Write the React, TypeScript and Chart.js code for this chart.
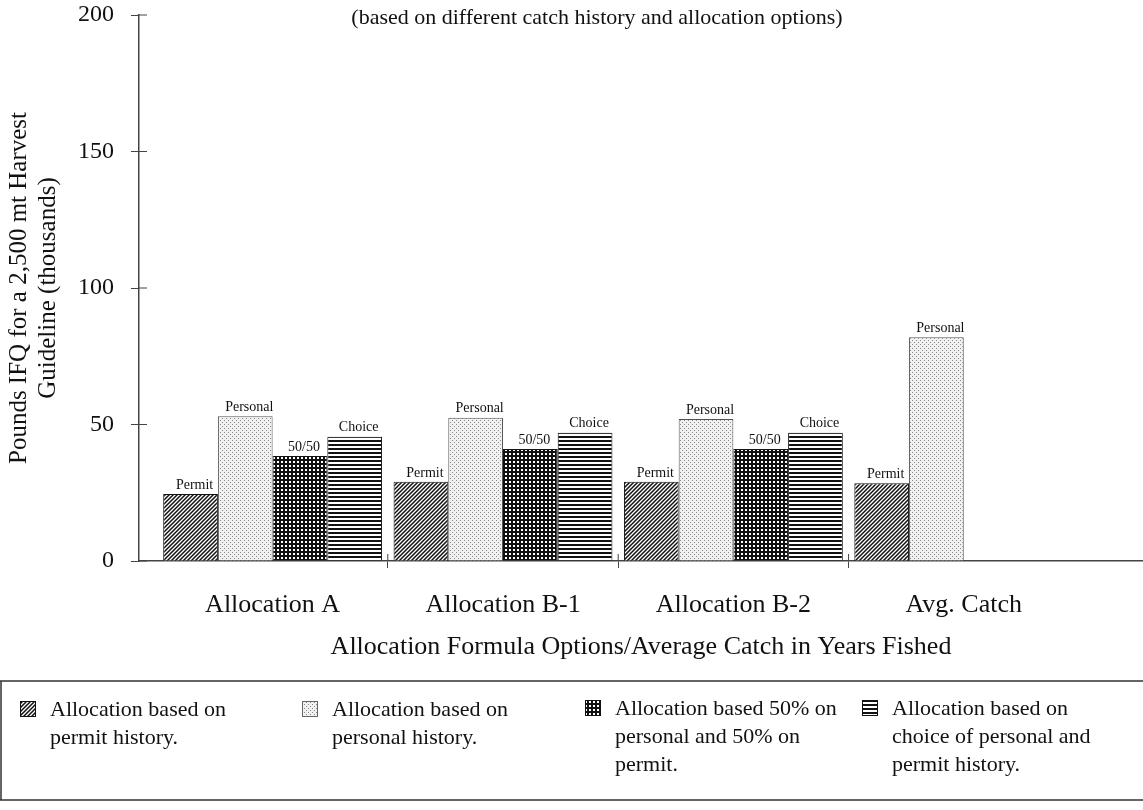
import React, { useEffect, useRef } from "react";
import { Chart, registerables } from "chart.js";

Chart.register(...registerables);

const FONT = "'Liberation Serif', 'Times New Roman', serif";

const categories = ["Allocation A", "Allocation B-1", "Allocation B-2", "Avg. Catch"];
const permitValues: (number | null)[] = [24.5, 29, 29, 28.5];
const personalValues: (number | null)[] = [53, 52.5, 52, 82];
const fiftyFiftyValues: (number | null)[] = [38.5, 41, 41, null];
const choiceValues: (number | null)[] = [45.5, 47, 47, null];
const seriesNames = ["Permit", "Personal", "50/50", "Choice"];
const yTickValues = [0, 50, 100, 150, 200];
const chartTitle = "(based on different catch history and allocation options)";
const xAxisTitle = "Allocation Formula Options/Average Catch in Years Fished";
const yAxisTitle = ["Pounds IFQ for a 2,500 mt Harvest", "Guideline (thousands)"];
const legendTexts: string[][] = [
  ["Allocation based on", "permit history."],
  ["Allocation based on", "personal history."],
  ["Allocation based 50% on", "personal and 50% on", "permit."],
  ["Allocation based on", "choice of personal and", "permit history."],
];

function makePattern(kind: string): CanvasPattern | string {
  const c = document.createElement("canvas");
  c.width = 4;
  c.height = 4;
  const g = c.getContext("2d");
  if (!g) return "#888";
  if (kind === "permit") {
    g.fillStyle = "#ffffff";
    g.fillRect(0, 0, 4, 4);
    g.strokeStyle = "#111111";
    g.lineWidth = 1.5;
    g.beginPath();
    g.moveTo(-1, 5);
    g.lineTo(5, -1);
    g.moveTo(-1, 1);
    g.lineTo(1, -1);
    g.moveTo(3, 5);
    g.lineTo(5, 3);
    g.stroke();
  } else if (kind === "personal") {
    g.fillStyle = "#f1f1f1";
    g.fillRect(0, 0, 4, 4);
    g.fillStyle = "#8a8a8a";
    g.fillRect(0, 0, 1, 1);
    g.fillRect(2, 2, 1, 1);
  } else if (kind === "fifty") {
    g.fillStyle = "#111111";
    g.fillRect(0, 0, 4, 4);
    g.fillStyle = "#ffffff";
    g.fillRect(1, 1, 2, 2);
  } else {
    g.fillStyle = "#ffffff";
    g.fillRect(0, 0, 4, 4);
    g.fillStyle = "#111111";
    g.fillRect(0, 0, 4, 2);
  }
  return g.createPattern(c, "repeat") || "#888";
}

export default function App() {
  const ref = useRef<HTMLCanvasElement | null>(null);

  useEffect(() => {
    const canvas = ref.current;
    if (!canvas) return;
    const patterns = [
      makePattern("permit"),
      makePattern("personal"),
      makePattern("fifty"),
      makePattern("choice"),
    ];
    const seriesData = [permitValues, personalValues, fiftyFiftyValues, choiceValues];

    const decor = {
      id: "decor",
      afterDraw(chart: any) {
        const ctx = chart.ctx as CanvasRenderingContext2D;
        const area = chart.chartArea;
        const W = chart.width;
        ctx.save();
        // title inside plot
        ctx.fillStyle = "#111";
        ctx.font = `22px ${FONT}`;
        ctx.textAlign = "center";
        ctx.textBaseline = "middle";
        ctx.fillText(chartTitle, 597, 18);

        // inner tick marks on y axis
        const yScale = chart.scales.y;
        ctx.strokeStyle = "#444";
        ctx.lineWidth = 1;
        yTickValues.forEach((v) => {
          const py = yScale.getPixelForValue(v);
          ctx.beginPath();
          ctx.moveTo(area.left, py);
          ctx.lineTo(area.left + 8, py);
          ctx.stroke();
        });
        // inner tick marks on x axis (category boundaries)
        const xScale = chart.scales.x;
        for (let i = 1; i < categories.length; i++) {
          const px = (xScale.getPixelForTick(i - 1) + xScale.getPixelForTick(i)) / 2;
          ctx.beginPath();
          ctx.moveTo(px, area.bottom - 7);
          ctx.lineTo(px, area.bottom);
          ctx.stroke();
        }

        // bar labels
        ctx.fillStyle = "#111";
        ctx.font = `14px ${FONT}`;
        ctx.textAlign = "center";
        ctx.textBaseline = "bottom";
        chart.data.datasets.forEach((ds: any, di: number) => {
          const meta = chart.getDatasetMeta(di);
          meta.data.forEach((el: any, i: number) => {
            const v = ds.data[i];
            if (v === null || v === undefined) return;
            ctx.fillText(seriesNames[di], el.x + 4, el.y - 2);
          });
        });

        // legend box
        const boxTop = 681;
        const boxBottom = 800;
        ctx.strokeStyle = "#333";
        ctx.lineWidth = 1.5;
        ctx.beginPath();
        ctx.moveTo(0, boxTop);
        ctx.lineTo(W, boxTop);
        ctx.moveTo(0, boxBottom);
        ctx.lineTo(W, boxBottom);
        ctx.moveTo(1, boxTop);
        ctx.lineTo(1, boxBottom);
        ctx.stroke();

        const swatchX = [20, 302, 585, 862];
        const textX = [50, 332, 615, 892];
        const lineY = [710, 710, 709, 709];
        ctx.font = `22px ${FONT}`;
        ctx.textAlign = "left";
        ctx.textBaseline = "middle";
        legendTexts.forEach((lines, i) => {
          const sx = swatchX[i];
          const sy = lineY[i] - 9;
          ctx.fillStyle = patterns[i] as any;
          ctx.fillRect(sx, sy, 16, 16);
          ctx.strokeStyle = i === 1 ? "#666" : "#111";
          ctx.lineWidth = 1;
          ctx.strokeRect(sx + 0.5, sy + 0.5, 15, 15);
          ctx.fillStyle = "#111";
          lines.forEach((t, li) => {
            ctx.fillText(t, textX[i], lineY[i] + li * 28);
          });
        });
        ctx.restore();
      },
    };

    const chart = new Chart(canvas, {
      type: "bar",
      data: {
        labels: categories,
        datasets: seriesData.map((d, i) => ({
          label: seriesNames[i],
          data: d,
          backgroundColor: patterns[i] as any,
          borderColor: i === 1 ? "#555" : "#111",
          borderWidth: 1,
          categoryPercentage: 0.95,
          barPercentage: 1,
        })),
      },
      options: {
        responsive: false,
        animation: false,
        layout: { padding: { left: 0, right: 0, top: 15, bottom: 147 } },
        plugins: {
          legend: { display: false },
          tooltip: { enabled: false },
          title: { display: false },
        },
        scales: {
          x: {
            afterBuildTicks: (s: any) => {
              // category slots are a little narrower than the axis, which runs on to the right edge
              s._startValue = -0.58;
              s._valueRange = 4.358;
            },
            grid: {
              drawOnChartArea: false,
              tickLength: 7,
              color: (c: any) =>
                c.type !== "tick" || c.index === 0 ? "rgba(0,0,0,0)" : "#444",
            },
            border: { color: "#444", width: 1.5 },
            ticks: { font: { family: FONT, size: 26 }, color: "#111", padding: 22 },
            title: {
              display: true,
              text: xAxisTitle,
              font: { family: FONT, size: 26 },
              color: "#111",
              padding: { top: 0, bottom: 0 },
            },
            afterFit: (s: any) => {
              s.height = 102;
            },
          },
          y: {
            min: 0,
            max: 200,
            afterBuildTicks: (s: any) => {
              s.ticks = yTickValues.map((v) => ({ value: v }));
            },
            grid: { drawOnChartArea: false, tickLength: 8, color: "#444" },
            border: { color: "#444", width: 1.5 },
            ticks: { font: { family: FONT, size: 24 }, color: "#111", padding: 17 },
            title: {
              display: true,
              text: yAxisTitle,
              font: { family: FONT, size: 25, lineHeight: 1.15 },
              color: "#111",
              padding: { top: 5, bottom: 0 },
            },
            afterFit: (s: any) => {
              s.width = 139;
              s.paddingTop = 0;
              s.paddingBottom = 0;
            },
          },
        },
      },
      plugins: [decor],
    });
    return () => chart.destroy();
  }, []);

  return (
    <div style={{ position: "fixed", left: 0, top: 0, width: 1143, height: 810, background: "#fff" }}>
      <canvas ref={ref} width={1143} height={810} style={{ width: 1143, height: 810, display: "block" }} />
    </div>
  );
}
